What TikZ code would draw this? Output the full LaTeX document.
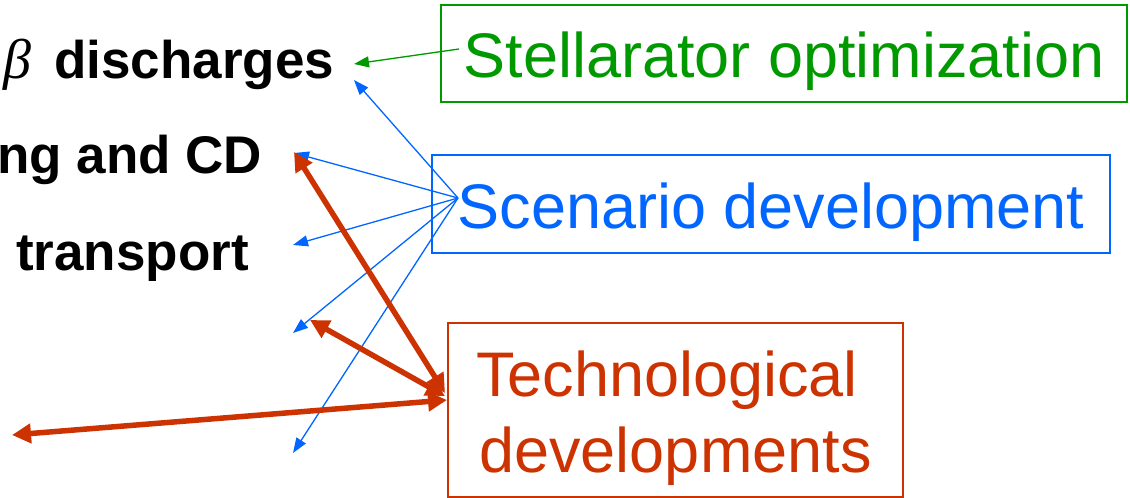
\documentclass[tikz,border=0pt]{standalone}
\usepackage{fontspec}
\setmainfont{Liberation Sans}
\newfontfamily\greekserif{Liberation Serif}
\usetikzlibrary{arrows.meta}
\definecolor{cgreen}{RGB}{0,153,0}
\definecolor{cblue}{RGB}{0,102,255}
\definecolor{cred}{RGB}{204,51,0}
\tikzset{
  lbl/.style={anchor=base west, inner sep=0pt, font=\fontsize{53}{60}\selectfont\bfseries},
  boxnode/.style={draw=#1, text=#1, line width=1.2pt, inner sep=0pt,
    font=\fontsize{63}{76}\selectfont},
  bluearrow/.style={draw=cblue, line width=1.3pt, -{Triangle[length=15pt,width=11pt]}},
  greenarrow/.style={draw=cgreen, line width=1.3pt, -{Triangle[length=15pt,width=11pt]}},
  redarrow/.style={draw=cred, line width=5.5pt, {Triangle[length=19pt,width=19pt]}-{Triangle[length=19pt,width=19pt]}}
}
\begin{document}
\begin{tikzpicture}[x=1pt,y=-1pt]
\useasboundingbox (0,0) rectangle (1130,498);
% left labels
\node[lbl] (beta) at (3,78) {{\greekserif\mdseries\itshape\fontsize{56}{60}\selectfont β}};
\node[lbl] (dis) at (54,78) {discharges};
\node[lbl] (hcd) at (-3,173) {ng and CD};
\node[lbl] (tr) at (16,270) {transport};
% boxes
\node[boxnode=cgreen, minimum width=686pt, minimum height=97pt, text height=47pt, text depth=0pt] (stell) at (784,53.5) {Stellarator optimization};
\node[boxnode=cblue, minimum width=678pt, minimum height=98pt, text height=48pt, text depth=0pt] (scen) at (771,204) {Scenario development};
\node[boxnode=cred, minimum width=455pt, minimum height=174pt, align=center] (tech) at (675.5,410) {\rule{0pt}{63pt}Technological\makebox[17pt]{}\\developments};
% coordinates
\coordinate (gs) at (459,49);
\coordinate (gt) at (354,64);
\coordinate (sc) at (458,198);
\coordinate (b1) at (354,80);
\coordinate (b2) at (294,153);
\coordinate (b3) at (293,245);
\coordinate (b4) at (293,333);
\coordinate (b5) at (293,453);
\coordinate (r1) at (294,152);
\coordinate (r2) at (310,320);
\coordinate (r3) at (12,435);
\coordinate (t1) at (445,393);
\coordinate (t2) at (445,396);
\coordinate (t3) at (447,400);
% connectors
\draw[greenarrow] (gs) -- (gt);
\foreach \b in {b1,b2,b3,b4,b5} \draw[bluearrow] (sc) -- (\b);
\draw[redarrow] (r1) -- (t1);
\draw[redarrow] (r2) -- (t2);
\draw[redarrow] (r3) -- (t3);
\end{tikzpicture}
\end{document}
